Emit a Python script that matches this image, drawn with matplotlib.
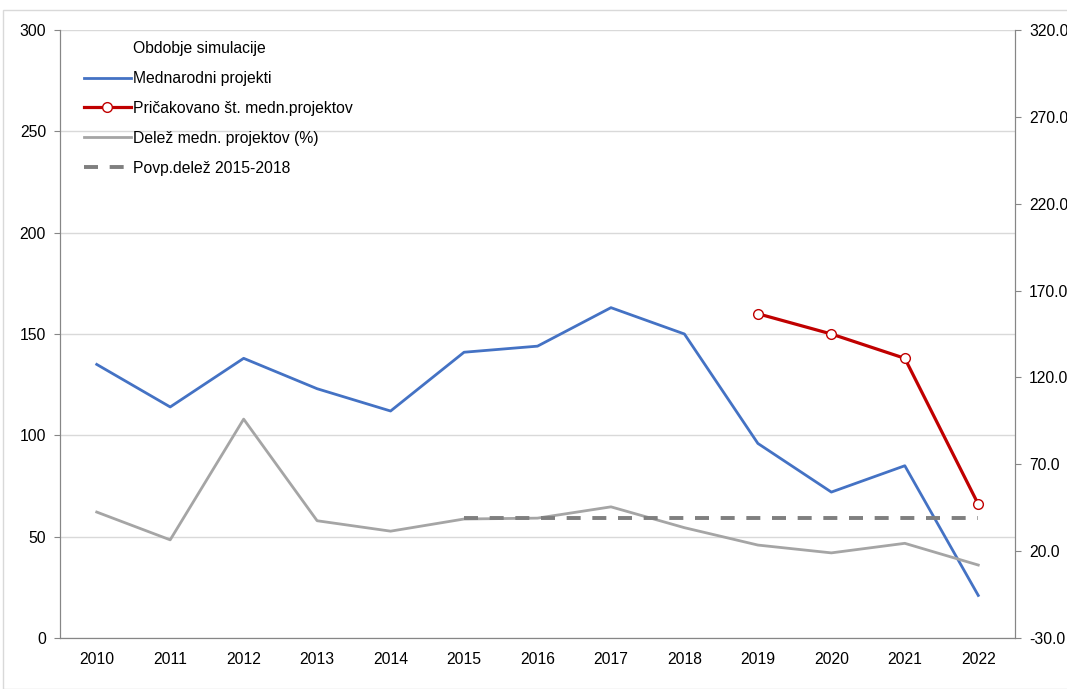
import numpy as np
import matplotlib.pyplot as plt
from matplotlib.patches import Rectangle
from matplotlib.lines import Line2D

plt.rcParams['font.family'] = ['Liberation Sans', 'DejaVu Sans']

years = [str(y) for y in range(2010, 2023)]
mednarodni = [135, 114, 138, 123, 112, 141, 144, 163, 150, 96, 72, 85, 21]
pricakovano_years = ['2019', '2020', '2021', '2022']
pricakovano = [160, 150, 138, 66]
delez = [42.5, 26.5, 96.0, 37.5, 31.5, 38.5, 39.0, 45.5, 33.5, 23.5, 19.0, 24.5, 12.0]
povp_years = ['2015', '2016', '2017', '2018', '2019', '2020', '2021', '2022']
povp_delez = [39.1] * len(povp_years)

x = np.arange(len(years))
idx = {y: i for i, y in enumerate(years)}
fs = 11.3

fig = plt.figure(figsize=(10.67, 6.89), dpi=100)
ax = fig.add_axes([60 / 1067, 51 / 689, 955 / 1067, 608 / 689])
ax2 = ax.twinx()

# border round the whole chart
fig.patches.append(Rectangle((3 / 1067, 0.0), 1.2, 679 / 689, transform=fig.transFigure,
                             fill=False, edgecolor='#d9d9d9', lw=1.0))

ax.set_ylim(0, 300)
ax.set_yticks(range(0, 301, 50))
ax2.set_ylim(-30, 320)
ax2.set_yticks(np.arange(-30, 321, 50))
ax2.set_yticklabels([f'{v:.1f}' for v in np.arange(-30, 321, 50)])
ax.set_xlim(-0.5, len(years) - 0.5)
ax.set_xticks(x)
ax.set_xticklabels(years)

ax.grid(axis='y', color='#d9d9d9', lw=1.0)
ax.set_axisbelow(True)
for a in (ax, ax2):
    a.spines['top'].set_visible(False)
    for s in ('left', 'right', 'bottom'):
        a.spines[s].set_color('#868686')
ax.tick_params(axis='y', length=4, color='#868686', labelsize=fs, pad=6)
ax2.tick_params(axis='y', length=4, color='#868686', labelsize=fs, pad=6)
ax.tick_params(axis='x', length=0, labelsize=fs, pad=10)

ax.plot(x, mednarodni, color='#4472c4', lw=2.0, zorder=4)
ax.plot([idx[y] for y in pricakovano_years], pricakovano, color='#c00000', lw=2.3,
        marker='o', ms=7, mfc='white', mec='#c00000', mew=1.0, zorder=5)
ax2.plot(x, delez, color='#a5a5a5', lw=2.0, zorder=3)
ax2.plot([idx[y] for y in povp_years], povp_delez, color='#7f7f7f', lw=2.8,
         dashes=(3.6, 3), zorder=3)

handles = [
    Line2D([], [], color='none'),
    Line2D([], [], color='#4472c4', lw=2.0),
    Line2D([], [], color='#c00000', lw=2.3, marker='o', ms=7, mfc='white', mec='#c00000'),
    Line2D([], [], color='#a5a5a5', lw=2.0),
    Line2D([], [], color='#7f7f7f', lw=2.8, dashes=(3.6, 3)),
]
labels = ['Obdobje simulacije', 'Mednarodni projekti', 'Pričakovano št. medn.projektov',
          'Delež medn. projektov (%)', 'Povp.delež 2015-2018']
ax2.legend(handles, labels, loc='upper left', bbox_to_anchor=(0.01, 1.005), frameon=False,
           fontsize=fs, handlelength=3.0, handletextpad=0.15, labelspacing=0.95)

fig.savefig('out.png', dpi=100)
